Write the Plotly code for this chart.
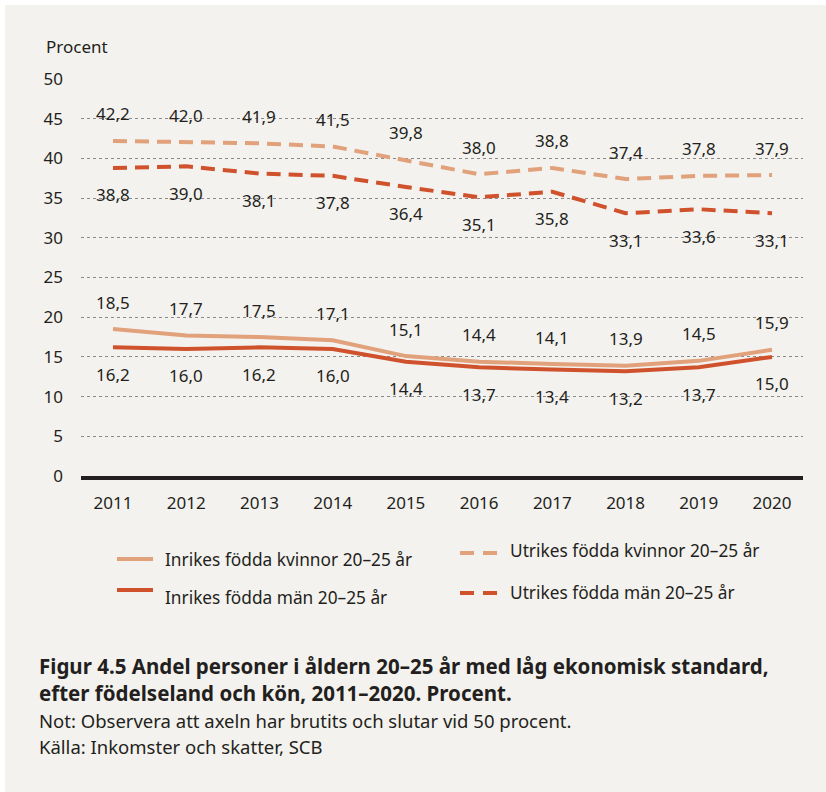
import plotly.graph_objects as go

years = [2011, 2012, 2013, 2014, 2015, 2016, 2017, 2018, 2019, 2020]
utrikes_kvinnor = [42.2, 42.0, 41.9, 41.5, 39.8, 38.0, 38.8, 37.4, 37.8, 37.9]
utrikes_man = [38.8, 39.0, 38.1, 37.8, 36.4, 35.1, 35.8, 33.1, 33.6, 33.1]
inrikes_kvinnor = [18.5, 17.7, 17.5, 17.1, 15.1, 14.4, 14.1, 13.9, 14.5, 15.9]
inrikes_man = [16.2, 16.0, 16.2, 16.0, 14.4, 13.7, 13.4, 13.2, 13.7, 15.0]
y_ticks = [0, 5, 10, 15, 20, 25, 30, 35, 40, 45, 50]

LIGHT = "#e0a17b"
DARK = "#cf522d"
TEXT = "#231f20"
BG = "#f4f2ee"
FONT = "Noto Sans"
FS = 17

W, H = 826, 792
L, R, T, B = 81, 23, 79, 316

series = [
    ("Inrikes födda kvinnor 20–25 år", inrikes_kvinnor, LIGHT, "solid", 1),
    ("Inrikes födda män 20–25 år", inrikes_man, DARK, "solid", -1),
    ("Utrikes födda kvinnor 20–25 år", utrikes_kvinnor, LIGHT, "dash", 1),
    ("Utrikes födda män 20–25 år", utrikes_man, DARK, "dash", -1),
]

fig = go.Figure()
annotations = []
for name, vals, color, dash, side in series:
    fig.add_trace(go.Scatter(
        x=years, y=vals, mode="lines", name=name,
        line=dict(color=color, width=4, dash=dash if dash == "solid" else "14px,8px"),
        showlegend=False, hoverinfo="skip",
    ))
    for xv, yv in zip(years, vals):
        annotations.append(dict(
            x=xv, y=yv, xref="x", yref="y",
            text=f"{yv:.1f}".replace(".", ","),
            showarrow=False, yshift=27 * side,
            font=dict(family=FONT, size=FS, color=TEXT),
        ))


def px(xp):
    return (xp - L) / (W - L - R)


def py(yp):
    return (H - B - yp) / (H - T - B)


# Hand-built legend in two columns
legend_items = [
    (series[0], 117, 153, 559, 163, 559),
    (series[1], 117, 153, 590, 163, 597),
    (series[2], 460, 497, 553, 508, 550),
    (series[3], 460, 497, 593, 508, 592),
]
shapes = [
    dict(type="rect", xref="paper", yref="paper",
         x0=px(5), x1=px(W), y0=py(H), y1=py(5),
         fillcolor=BG, line=dict(width=0), layer="below"),
]
for (name, vals, color, dash, side), x0, x1, ly, tx, ty in legend_items:
    if dash == "solid":
        shapes.append(dict(type="line", xref="paper", yref="paper",
                           x0=px(x0), x1=px(x1), y0=py(ly), y1=py(ly),
                           line=dict(color=color, width=4)))
    else:
        seg = (x1 - x0 - 9) / 2
        for s in (x0, x0 + seg + 9):
            shapes.append(dict(type="line", xref="paper", yref="paper",
                               x0=px(s), x1=px(s + seg), y0=py(ly), y1=py(ly),
                               line=dict(color=color, width=4)))
    annotations.append(dict(
        x=px(tx), y=py(ty), xref="paper", yref="paper", text=name,
        showarrow=False, xanchor="left", yanchor="middle",
        font=dict(family=FONT, size=17.3, color=TEXT),
    ))

annotations.append(dict(
    x=px(44), y=py(47), xref="paper", yref="paper", text="Procent",
    showarrow=False, xanchor="left", yanchor="middle",
    font=dict(family=FONT, size=FS, color=TEXT),
))

caption = [
    ("<b>Figur 4.5 Andel personer i åldern 20–25 år med låg ekonomisk standard,</b>", 666, 20.5),
    ("<b>efter födelseland och kön, 2011–2020. Procent.</b>", 693, 20.5),
    ("Not: Observera att axeln har brutits och slutar vid 50 procent.", 720, 18.5),
    ("Källa: Inkomster och skatter, SCB", 746, 18.5),
]
for text, yy, size in caption:
    annotations.append(dict(
        x=px(37), y=py(yy), xref="paper", yref="paper", text=text,
        showarrow=False, xanchor="left", yanchor="middle",
        font=dict(family=FONT, size=size, color=TEXT),
    ))

fig.update_layout(
    width=W, height=H,
    margin=dict(l=L, r=R, t=T, b=B, pad=0),
    paper_bgcolor="white", plot_bgcolor=BG,
    font=dict(family=FONT, size=FS, color=TEXT),
    shapes=shapes, annotations=annotations,
    xaxis=dict(
        range=[2010.563, 2020.423], tickvals=years,
        ticktext=[str(y) for y in years],
        showgrid=False, zeroline=False,
        showline=True, linecolor=TEXT, linewidth=4,
        ticks="", ticklabelstandoff=9,
        tickfont=dict(family=FONT, size=FS, color=TEXT),
    ),
    yaxis=dict(
        range=[0, 50], tickvals=y_ticks,
        showgrid=True, gridcolor="#8a8a8a", gridwidth=1, griddash="dot",
        zeroline=False, showline=False, ticks="", ticklabelstandoff=17,
        tickfont=dict(family=FONT, size=FS, color=TEXT),
    ),
)

fig.write_html("out.html")
